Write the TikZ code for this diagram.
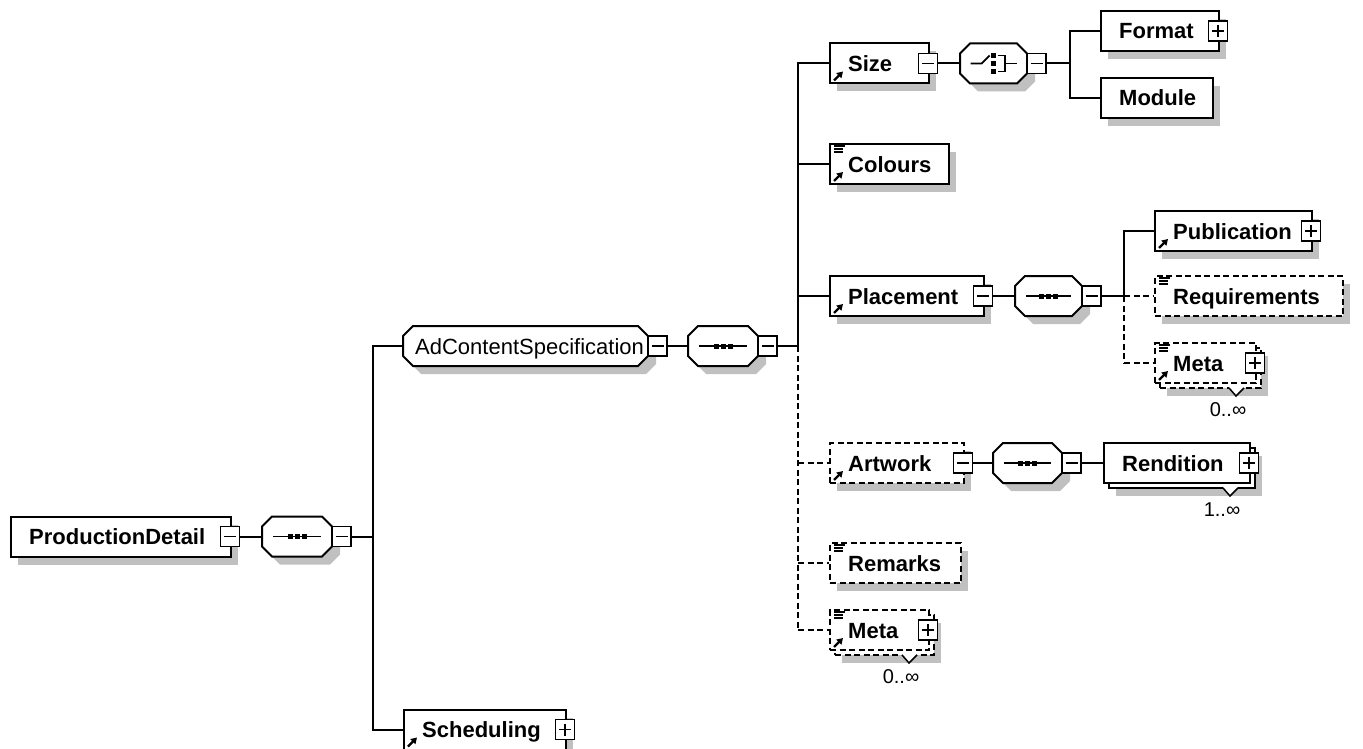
\documentclass[tikz,border=0pt]{standalone}
\usepackage{fontspec}
\setmainfont{Liberation Sans}
\usetikzlibrary{arrows.meta,calc}
\definecolor{shadowgrey}{RGB}{192,192,192}

\tikzset{
  edge/.style={line width=2pt},
  solidedge/.style={edge, line cap=rect},
  opt/.style={dash pattern=on 6pt off 3.5pt},
  elbox/.style={shape=rectangle, draw=black, line width=2pt, fill=white, inner sep=0pt, minimum height=40},
  tog/.style={shape=rectangle, draw=black, line width=1.8pt, fill=white, inner sep=0pt, minimum width=19, minimum height=20},
  hub/.style={shape=rectangle, inner sep=0pt, minimum height=40},
  eltext/.style={inner sep=0pt, font=\fontsize{22}{26}\selectfont\bfseries},
  typetext/.style={inner sep=0pt, font=\fontsize{22}{26}\selectfont},
  occtext/.style={inner sep=0pt, font=\fontsize{20}{24}\selectfont},
  glyph/.style={line width=1.8pt},
}

% element box with shadow: [style]{name}{left}{right}{centre y}{text}
\newcommand\elem[6][]{%
  \fill[shadowgrey] (#3+8,#5-12) rectangle (#4+8,#5+28);
  \node[elbox,#1,anchor=west,minimum width={#4-#3}] (#2) at (#3,#5) {};
  \node[eltext,anchor=base west] (#2-text) at (#3+19,#5+8) {#6};
}
% repeated element: [style]{name}{left}{right}{centre y}{text}{occurrence}
\newcommand\multielem[7][]{%
  \fill[shadowgrey] (#3+13,#5-7) rectangle (#4+13,#5+33);
  \node[elbox,#1,anchor=west,minimum width={#4-#3}] (#2-back) at (#3+5,#5+5) {};
  \fill[white] (#4-26,#5+24) -- (#4-19,#5+33) -- (#4-11,#5+24) -- cycle;
  \draw[line width=1.5pt] (#4-26,#5+25) -- (#4-19,#5+33) -- (#4-11,#5+25);
  \node[elbox,#1,anchor=west,minimum width={#4-#3}] (#2) at (#3,#5) {};
  \node[eltext,anchor=base west] (#2-text) at (#3+19,#5+8) {#6};
  \node[occtext] (#2-occ) at (#4-27,#5+47) {#7};
}
% chamfered compositor / type shape: {name}{left}{right}{centre y}
\newcommand\octa[4]{%
  \fill[shadowgrey] (#2+18,#4-12) -- (#3-2,#4-12) -- (#3+8,#4-2) -- (#3+8,#4+18) -- (#3-2,#4+28) -- (#2+18,#4+28) -- (#2+8,#4+18) -- (#2+8,#4-2) -- cycle;
  \filldraw[edge, fill=white] (#2+10,#4-20) -- (#3-10,#4-20) -- (#3,#4-10) -- (#3,#4+10) -- (#3-10,#4+20) -- (#2+10,#4+20) -- (#2,#4+10) -- (#2,#4-10) -- cycle;
  \node[hub, anchor=west, minimum width={#3-#2}] (#1) at (#2,#4) {};
}
\newcommand\seqicon[1]{%
  \draw[glyph] ($(#1.west)+(11,0)$) -- ($(#1.east)+(-11,0)$);
  \foreach \dx in {-7,0,7}
    \fill ($(#1.center)+(\dx-2.5,-2.5)$) rectangle ($(#1.center)+(\dx+2.5,2.5)$);
}
\newcommand\choiceicon[1]{%
  \draw[glyph] ($(#1.center)+(-23,0)$) -- ($(#1.center)+(-12,0)$) -- ($(#1.center)+(-4,-8)$);
  \foreach \dy in {-8,0,8}
    \fill ($(#1.center)+(-2.3,\dy-2.3)$) rectangle ($(#1.center)+(2.3,\dy+2.3)$);
  \draw[glyph] ($(#1.center)+(4,-8)$) -- ($(#1.center)+(11,-8)$) -- ($(#1.center)+(11,8)$) -- ($(#1.center)+(4,8)$);
  \draw[glyph] ($(#1.center)+(11,0)$) -- ($(#1.center)+(23,0)$);
}
\newcommand\tgminus[3]{%
  \node[tog] (#1) at (#2,#3) {};
  \draw[glyph] ($(#1.center)+(-6,0)$) -- ($(#1.center)+(6,0)$);
}
\newcommand\tgplus[3]{%
  \tgminus{#1}{#2}{#3}%
  \draw[glyph] ($(#1.center)+(0,-6)$) -- ($(#1.center)+(0,6)$);
}
\newcommand\refarrow[1]{%
  \draw[line width=2.2pt, -{Triangle[length=6pt,width=7pt]}] ($(#1.south west)+(5,-4)$) -- ($(#1.south west)+(14,-13)$);
}
\newcommand\docicon[1]{%
  \foreach \dy/\w in {3/11,6/9,9/9}
    \draw[line width=1.3pt] ($(#1.north west)+(5,\dy)$) -- ++(\w,0);
}

\begin{document}
\begin{tikzpicture}[x=1pt,y=-1pt]
\useasboundingbox (0,0) rectangle (1363,749);

% ---- root and its sequence
\elem{pd}{10}{230}{536.5}{ProductionDetail}
\tgminus{pd-tg}{230}{536.5}
\octa{seq1}{262}{332}{536.5}
\seqicon{seq1}
\tgminus{seq1-tg}{341.5}{536.5}

% ---- AdContentSpecification type and its sequence
\octa{adc}{403}{648}{346}
\node[typetext, anchor=base west] (adc-text) at (415,354) {AdContentSpecification};
\tgminus{adc-tg}{657.5}{346}
\octa{seq2}{688}{758}{346}
\seqicon{seq2}
\tgminus{seq2-tg}{767.5}{346}

\elem{sched}{403}{565}{729.5}{Scheduling}
\refarrow{sched}
\tgplus{sched-tg}{565}{729.5}

% ---- Size with its choice
\elem{size}{829}{928}{63.5}{Size}
\refarrow{size}
\tgminus{size-tg}{928}{63.5}
\octa{choice}{960}{1027}{63.5}
\choiceicon{choice}
\tgminus{choice-tg}{1036.5}{63.5}
\elem{format}{1100}{1218}{31}{Format}
\tgplus{format-tg}{1218}{31}
\elem{module}{1100}{1212}{98}{Module}

\elem{colours}{829}{948}{164}{Colours}
\docicon{colours}
\refarrow{colours}

% ---- Placement
\elem{place}{829}{983}{296}{Placement}
\refarrow{place}
\tgminus{place-tg}{983}{296}
\octa{seq3}{1015}{1082}{296}
\seqicon{seq3}
\tgminus{seq3-tg}{1091.5}{296}
\elem{pub}{1154}{1311}{231}{Publication}
\refarrow{pub}
\tgplus{pub-tg}{1311}{231}
\elem[opt]{req}{1154}{1342}{296}{Requirements}
\docicon{req}
\multielem[opt]{metap}{1154}{1255}{363}{Meta}{0..∞}
\docicon{metap}
\refarrow{metap}
\tgplus{metap-tg}{1255}{363}

% ---- Artwork
\elem[opt]{art}{829}{963}{463}{Artwork}
\refarrow{art}
\tgminus{art-tg}{963}{463}
\octa{seq4}{993}{1062}{463}
\seqicon{seq4}
\tgminus{seq4-tg}{1071.5}{463}
\multielem{rend}{1103}{1249}{463}{Rendition}{1..∞}
\tgplus{rend-tg}{1249}{463}

\elem[opt]{remarks}{829}{960}{563}{Remarks}
\docicon{remarks}
\multielem[opt]{metab}{829}{928}{630}{Meta}{0..∞}
\docicon{metab}
\refarrow{metab}
\tgplus{metab-tg}{928}{630}

% ---- connectors
\coordinate (j1) at (373,536.5);
\draw[solidedge] (pd-tg.east) -- (seq1.west);
\draw[solidedge] (seq1-tg.east) -- (j1);
\draw[solidedge] (j1 |- adc.west) -- (j1 |- sched.west);
\draw[solidedge] (j1 |- adc.west) -- (adc.west);
\draw[solidedge] (j1 |- sched.west) -- (sched.west);
\draw[solidedge] (adc-tg.east) -- (seq2.west);

\coordinate (j2) at (798,346);
\draw[solidedge] (seq2-tg.east) -- (j2);
\draw[solidedge] (j2 |- size.west) -- (j2);
\draw[edge, opt] (j2) -- (j2 |- metab.west);
\draw[solidedge] (j2 |- size.west) -- (size.west);
\draw[solidedge] (j2 |- colours.west) -- (colours.west);
\draw[solidedge] (j2 |- place.west) -- (place.west);
\draw[edge, opt] (j2 |- art.west) -- (art.west);
\draw[edge, opt] (j2 |- remarks.west) -- (remarks.west);
\draw[edge, opt] (j2 |- metab.west) -- (metab.west);

\coordinate (jc) at (1070,63.5);
\draw[solidedge] (size-tg.east) -- (choice.west);
\draw[solidedge] (choice-tg.east) -- (jc);
\draw[solidedge] (jc |- format.west) -- (jc |- module.west);
\draw[solidedge] (jc |- format.west) -- (format.west);
\draw[solidedge] (jc |- module.west) -- (module.west);

\coordinate (j3) at (1124,296);
\draw[solidedge] (place-tg.east) -- (seq3.west);
\draw[solidedge] (seq3-tg.east) -- (j3);
\draw[solidedge] (j3 |- pub.west) -- (j3);
\draw[edge, opt] (j3) -- (j3 |- metap.west);
\draw[solidedge] (j3 |- pub.west) -- (pub.west);
\draw[edge, opt] (j3) -- (req.west);
\draw[edge, opt] (j3 |- metap.west) -- (metap.west);

\draw[solidedge] (art-tg.east) -- (seq4.west);
\draw[solidedge] (seq4-tg.east) -- (rend.west);
\end{tikzpicture}
\end{document}
